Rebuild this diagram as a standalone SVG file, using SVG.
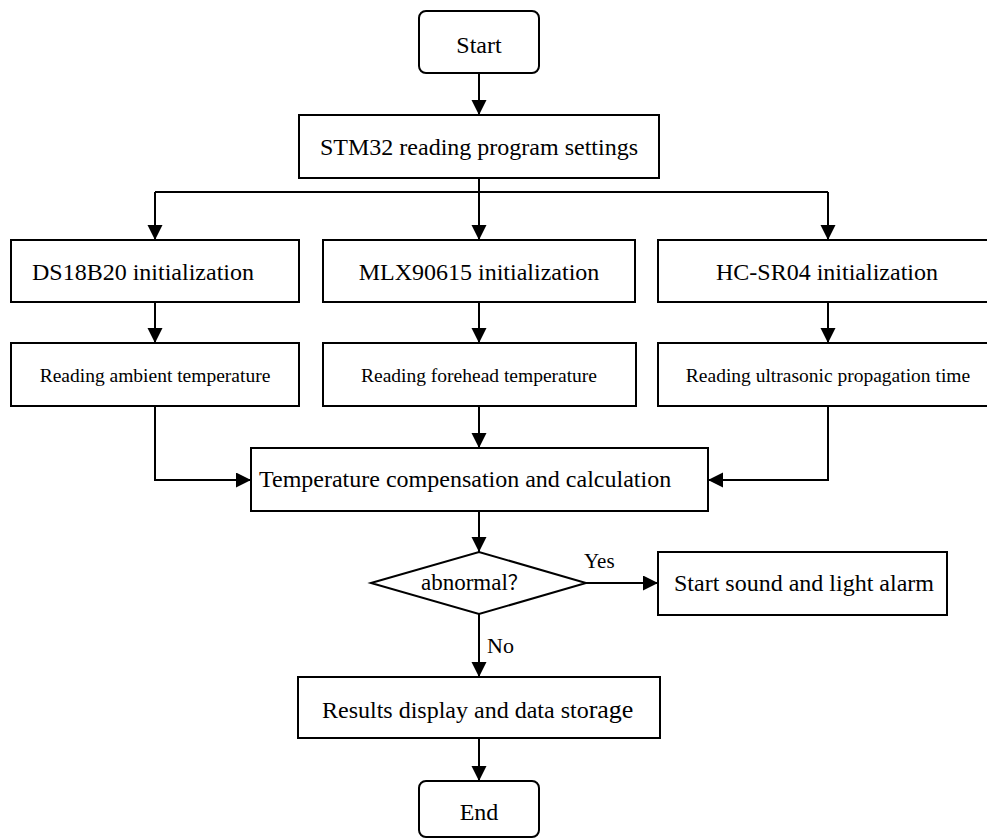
<svg xmlns="http://www.w3.org/2000/svg" width="987" height="840" viewBox="0 0 987 840">
<defs>
<style>
.box{fill:#fff;stroke:#000;stroke-width:2}
.ln{fill:none;stroke:#000;stroke-width:2}
.t{font-family:"Liberation Serif","Times New Roman",serif;font-size:24px;fill:#000}
.s{font-size:19.5px}
.c{text-anchor:middle}
</style>
<marker id="ah" markerUnits="userSpaceOnUse" markerWidth="16" markerHeight="16" refX="15" refY="7.5" orient="auto">
<path d="M0,0 L15,7.5 L0,15 z" fill="#000"/>
</marker>
</defs>
<rect width="987" height="840" fill="#fff"/>
<g id="connectors">
<path class="ln" d="M479,73 V115" marker-end="url(#ah)"/>
<path class="ln" d="M479,178 V192 M155,192 H828"/>
<path class="ln" d="M155,192 V240" marker-end="url(#ah)"/>
<path class="ln" d="M479,192 V240" marker-end="url(#ah)"/>
<path class="ln" d="M828,192 V240" marker-end="url(#ah)"/>
<path class="ln" d="M155,302 V343" marker-end="url(#ah)"/>
<path class="ln" d="M479,302 V343" marker-end="url(#ah)"/>
<path class="ln" d="M828,302 V343" marker-end="url(#ah)"/>
<path class="ln" d="M155,406 V480 H251" marker-end="url(#ah)"/>
<path class="ln" d="M479,406 V448" marker-end="url(#ah)"/>
<path class="ln" d="M828,406 V480 H708" marker-end="url(#ah)"/>
<path class="ln" d="M479,511 V552" marker-end="url(#ah)"/>
<path class="ln" d="M586,583 H658" marker-end="url(#ah)"/>
<path class="ln" d="M479,614 V677" marker-end="url(#ah)"/>
<path class="ln" d="M479,738 V781" marker-end="url(#ah)"/>
<text class="t" x="584" y="568" style="font-size:21px">Yes</text>
<text class="t" x="487" y="653" style="font-size:22px">No</text>
</g>
<g id="start">
<rect class="box" x="419" y="11" width="120" height="62" rx="7"/>
<text class="t c" x="479" y="53">Start</text>
</g>
<g id="stm32">
<rect class="box" x="299" y="115" width="360" height="63"/>
<text class="t c" x="479" y="155">STM32 reading program settings</text>
</g>
<g id="ds18b20">
<rect class="box" x="11" y="240" width="288" height="62"/>
<text class="t" x="32" y="280">DS18B20 initialization</text>
</g>
<g id="mlx90615">
<rect class="box" x="323" y="240" width="312" height="62"/>
<text class="t c" x="479" y="280">MLX90615 initialization</text>
</g>
<g id="hcsr04">
<rect class="box" x="658" y="240" width="340" height="62"/>
<text class="t c" x="827" y="280">HC-SR04 initialization</text>
</g>
<g id="ambient">
<rect class="box" x="11" y="343" width="288" height="63"/>
<text class="t s c" x="155" y="382">Reading ambient temperature</text>
</g>
<g id="forehead">
<rect class="box" x="323" y="343" width="313" height="63"/>
<text class="t s c" x="479" y="382">Reading forehead temperature</text>
</g>
<g id="ultrasonic">
<rect class="box" x="658" y="343" width="340" height="63"/>
<text class="t s c" x="828" y="382">Reading ultrasonic propagation time</text>
</g>
<g id="compensation">
<rect class="box" x="251" y="448" width="457" height="63"/>
<text class="t" x="259" y="487">Temperature compensation and calculation</text>
</g>
<g id="abnormal">
<polygon class="box" points="371,583 479,552 586,583 479,614"/>
<text class="t" x="421" y="590" style="font-size:23px">abnormal<tspan style="font-family:'Noto Sans CJK SC',sans-serif;font-size:20px">？</tspan></text>
</g>
<g id="alarm">
<rect class="box" x="658" y="552" width="289" height="63"/>
<text class="t" x="674" y="591">Start sound and light alarm</text>
</g>
<g id="results">
<rect class="box" x="298" y="677" width="362" height="61"/>
<text class="t" x="322" y="718">Results display and data sto<tspan style="font-size:26px">rage</tspan></text>
</g>
<g id="end">
<rect class="box" x="419" y="781" width="120" height="56" rx="7"/>
<text class="t c" x="479" y="820">End</text>
</g>
</svg>
